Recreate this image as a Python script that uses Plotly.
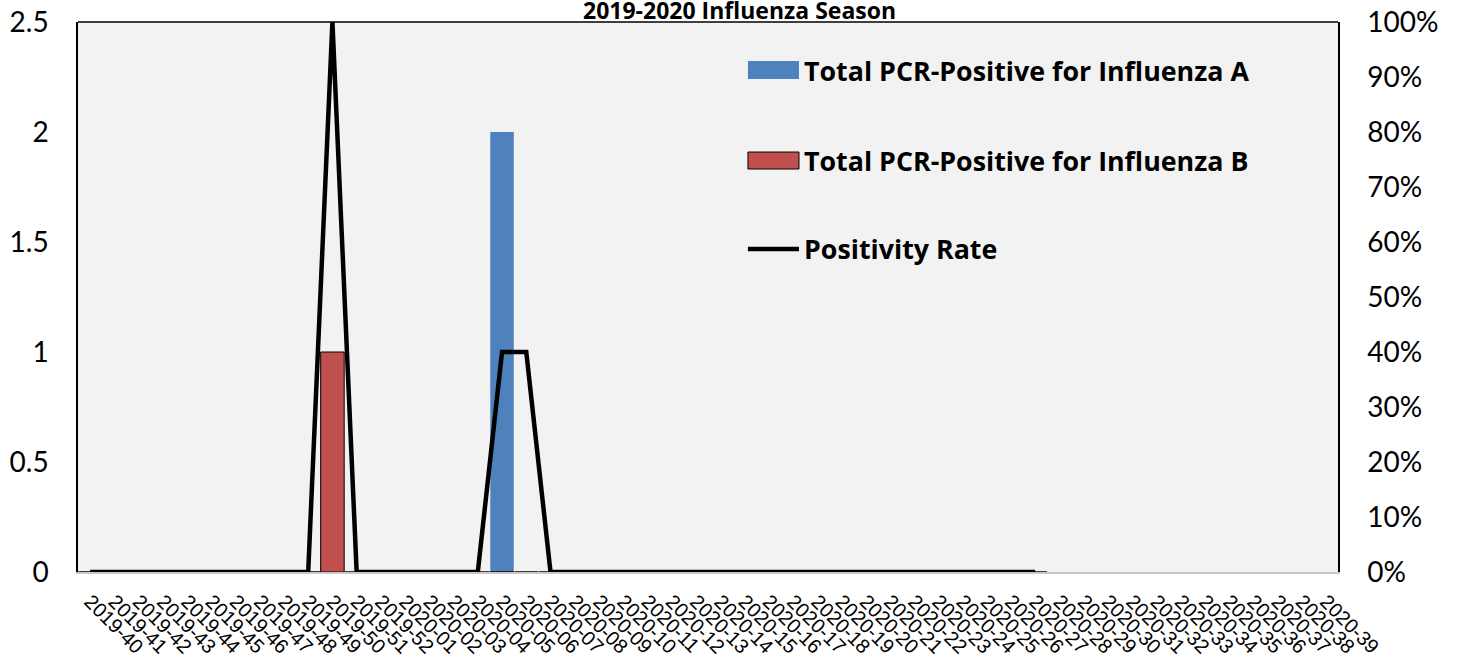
import plotly.graph_objects as go

weeks = [f"2019-{w}" for w in range(40, 53)] + [f"2020-{w:02d}" for w in range(1, 40)]

flu_a = [0] * 17 + [2] + [0] * 22 + [None] * 12
flu_b = [0] * 10 + [1] + [0] * 29 + [None] * 12
positivity = [0] * 10 + [1.0] + [0] * 6 + [0.4, 0.4] + [0] * 21 + [None] * 12

series_names = ["Total PCR-Positive for Influenza A",
                "Total PCR-Positive for Influenza B",
                "Positivity Rate"]
title_text = "2019-2020 Influenza Season"

blue = "#4f81bd"
red = "#c0504d"
FONT = "Lato"
LEG_FONT = "Open Sans"

fig = go.Figure()
fig.add_trace(go.Bar(x=weeks, y=flu_a, name=series_names[0], marker=dict(color=blue, line=dict(width=0)),
                     showlegend=False))
fig.add_trace(go.Bar(x=weeks, y=flu_b, name=series_names[1], marker=dict(color=red, line=dict(color="black", width=1)),
                     showlegend=False))
fig.add_trace(go.Scatter(x=weeks, y=positivity, name=series_names[2], yaxis="y2", mode="lines",
                         line=dict(color="black", width=4.5), showlegend=False))

shapes = [
    dict(type="line", xref="paper", yref="paper", x0=0, x1=1, y0=1, y1=1, line=dict(color="black", width=1.5)),
]
lx0, lx1, tx = 0.5317, 0.5722, 0.5745
shapes.append(dict(type="rect", xref="paper", yref="paper", x0=lx0, x1=lx1, y0=0.8964, y1=0.9291,
                   fillcolor=blue, line=dict(width=0)))
shapes.append(dict(type="rect", xref="paper", yref="paper", x0=lx0, x1=lx1, y0=0.7327, y1=0.7636,
                   fillcolor=red, line=dict(color="black", width=1)))
shapes.append(dict(type="line", xref="paper", yref="paper", x0=lx0, x1=lx1, y0=0.5873, y1=0.5873,
                   line=dict(color="black", width=4.5)))

leg_font = dict(family=LEG_FONT, size=26.8, color="black")
annotations = [
    dict(text=f"<b>{series_names[0]}</b>", xref="paper", yref="paper", x=tx, y=0.9127, xanchor="left",
         yanchor="middle", showarrow=False, font=leg_font),
    dict(text=f"<b>{series_names[1]}</b>", xref="paper", yref="paper", x=tx, y=0.7482, xanchor="left",
         yanchor="middle", showarrow=False, font=leg_font),
    dict(text=f"<b>{series_names[2]}</b>", xref="paper", yref="paper", x=tx, y=0.5873, xanchor="left",
         yanchor="middle", showarrow=False, font=leg_font),
    dict(text=f"<b>{title_text}</b>", xref="paper", yref="paper", x=0.525, y=1.052, xanchor="center",
         yanchor="top", showarrow=False, borderpad=0, font=dict(family=LEG_FONT, size=23, color="black")),
]

fig.update_layout(
    width=1458, height=664,
    margin=dict(l=78, r=120, t=22, b=92, autoexpand=False),
    paper_bgcolor="white", plot_bgcolor="#f2f2f2",
    barmode="overlay", bargap=0.03,
    showlegend=False,
    shapes=shapes, annotations=annotations,
    font=dict(family=FONT, color="black"),
    xaxis=dict(type="category", range=[-0.5, 51.5], tickangle=45, showgrid=False, automargin=False,
               showline=True, linecolor="#c8c8c8", linewidth=2, ticks="",
               tickfont=dict(family="Liberation Sans", size=20, color="black"),
               ticklabelstandoff=8),
    yaxis=dict(range=[0, 2.5], dtick=0.5, showgrid=False, zeroline=False, showline=True, automargin=False,
               linecolor="black", linewidth=1.5, ticks="", ticklabelstandoff=22,
               tickfont=dict(family=FONT, size=28, color="black")),
    yaxis2=dict(range=[0, 1], dtick=0.1, tickformat=".0%", overlaying="y", side="right", automargin=False,
                showgrid=False, zeroline=False, showline=True, linecolor="black", linewidth=1.5,
                ticks="", ticklabelstandoff=22, tickfont=dict(family=FONT, size=28, color="black")),
)

fig.write_html("out.html", config={"displayModeBar": False},
               post_script="document.body.style.margin='0';document.body.style.overflow='hidden';")
